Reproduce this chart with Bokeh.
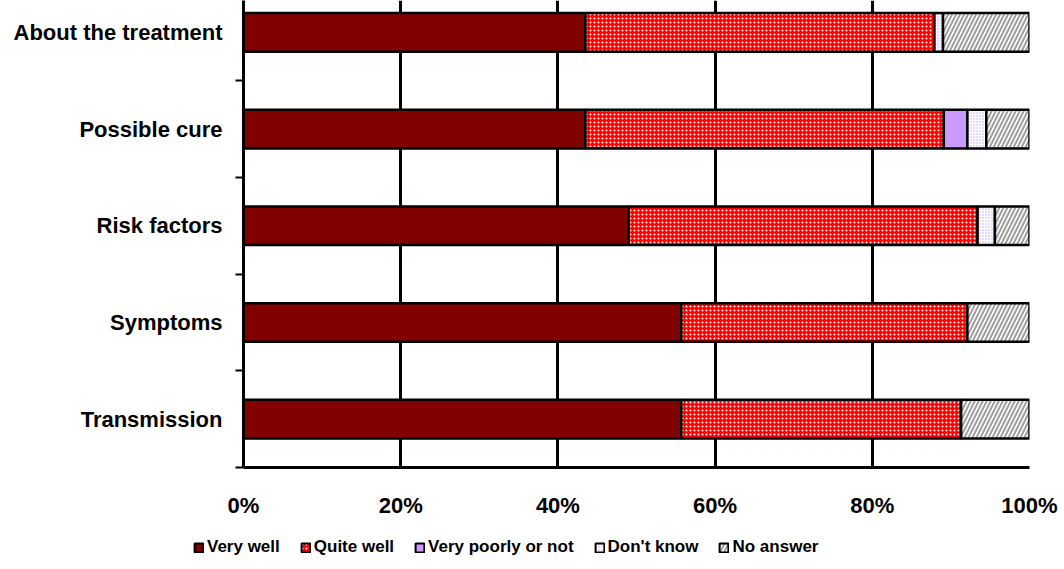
from bokeh.plotting import figure
from bokeh.models import FixedTicker, Legend, LegendItem, ColumnDataSource, Range1d
from bokeh.layouts import column
from bokeh.transform import stack
from bokeh.embed import file_html
from bokeh.resources import INLINE

categories = ["About the treatment", "Possible cure", "Risk factors", "Symptoms", "Transmission"]
series_names = ["Very well", "Quite well", "Very poorly or not", "Don't know", "No answer"]
very_well = [43.5, 43.5, 49.0, 55.7, 55.7]
quite_well = [44.4, 45.6, 44.4, 36.4, 35.6]
very_poorly = [0.0, 3.0, 0.0, 0.0, 0.0]
dont_know = [1.1, 2.4, 2.2, 0.0, 0.0]
no_answer = [11.0, 5.5, 4.4, 7.9, 8.7]
x_ticks = [0, 20, 40, 60, 80, 100]
x_tick_labels = ["0%", "20%", "40%", "60%", "80%", "100%"]

FONT = "Liberation Sans"
n = len(categories)
ypos = [n - i - 0.5 for i in range(n)]

keys = ["vw", "qw", "vp", "dk", "na"]
source = ColumnDataSource(dict(y=ypos, vw=very_well, qw=quite_well, vp=very_poorly,
                               dk=dont_know, na=no_answer))

styles = [
    dict(fill_color="#800000"),
    dict(fill_color="#FF0000", hatch_pattern="dot", hatch_color="white", hatch_scale=4, hatch_weight=1.5),
    dict(fill_color="#CC99FF"),
    dict(fill_color="white", hatch_pattern="dot", hatch_color="#C9A0FF", hatch_scale=3, hatch_weight=2),
    dict(fill_color="white", hatch_pattern="right_diagonal_line", hatch_color="#A0A0A0", hatch_scale=8, hatch_weight=2),
]

p = figure(width=1064, height=520, x_range=Range1d(0, 100), y_range=Range1d(0, 4.83),
           output_backend="svg", toolbar_location=None,
           min_border_left=243, min_border_right=35, min_border_top=0, min_border_bottom=52)
p.outline_line_color = None
p.background_fill_color = "white"
p.frame_align = False

p.ygrid.visible = False
p.xgrid.ticker = FixedTicker(ticks=x_ticks)
p.xgrid.grid_line_color = "black"
p.xgrid.grid_line_width = 3

for i, k in enumerate(keys):
    p.hbar(y="y", left=stack(*keys[:i]), right=stack(*keys[:i + 1]), height=0.4,
           source=source, line_color="black", line_width=2.5, **styles[i])

# x axis
xa = p.xaxis[0]
xa.ticker = FixedTicker(ticks=x_ticks)
xa.major_label_overrides = {t: l for t, l in zip(x_ticks, x_tick_labels)}
xa.major_tick_out = 0
xa.major_tick_in = 0
xa.minor_tick_line_color = None
xa.axis_line_width = 3
xa.axis_line_color = "black"
xa.major_label_text_font = FONT
xa.major_label_text_font_style = "bold"
xa.major_label_text_font_size = "22px"
xa.major_label_text_color = "black"
xa.major_label_standoff = 25

# y axis
ya = p.yaxis[0]
ya.ticker = FixedTicker(ticks=ypos, minor_ticks=list(range(n)))
ya.major_label_overrides = {y: c for y, c in zip(ypos, categories)}
ya.major_tick_line_color = None
ya.major_tick_out = 0
ya.major_tick_in = 0
ya.minor_tick_out = 8
ya.minor_tick_in = 0
ya.minor_tick_line_width = 2
ya.minor_tick_line_color = "black"
ya.axis_line_width = 3
ya.axis_line_color = "black"
ya.major_label_text_font = FONT
ya.major_label_text_font_style = "bold"
ya.major_label_text_font_size = "22px"
ya.major_label_text_color = "black"
ya.major_label_standoff = 13

# legend strip (legend-only figure; dummy renderers have zero size)
lg = figure(width=1064, height=49, x_range=Range1d(0, 1), y_range=Range1d(0, 1),
            output_backend="svg", toolbar_location=None,
            min_border_left=0, min_border_right=0, min_border_top=0, min_border_bottom=0)
lg.outline_line_color = None
lg.axis.visible = False
lg.grid.visible = False
lg.frame_align = False
dummy = ColumnDataSource(dict(y=[0.5], l=[0.5], r=[0.5]))
items = []
for i, name in enumerate(series_names):
    r = lg.hbar(y="y", left="l", right="r", height=0, source=dummy,
                line_color="black", line_width=2, **styles[i])
    items.append(LegendItem(label=name, renderers=[r]))

legend = Legend(items=items, orientation="horizontal", location=(193, 12),
                glyph_width=11, glyph_height=11, label_standoff=3, spacing=20,
                label_text_font=FONT, label_text_font_style="bold", label_text_font_size="17px",
                label_text_color="black",
                label_height=18, border_line_color=None, background_fill_alpha=0,
                padding=0, margin=0)
lg.add_layout(legend, "center")

layout = column(p, lg, spacing=0)
open("out.html", "w").write(file_html(layout, INLINE))
